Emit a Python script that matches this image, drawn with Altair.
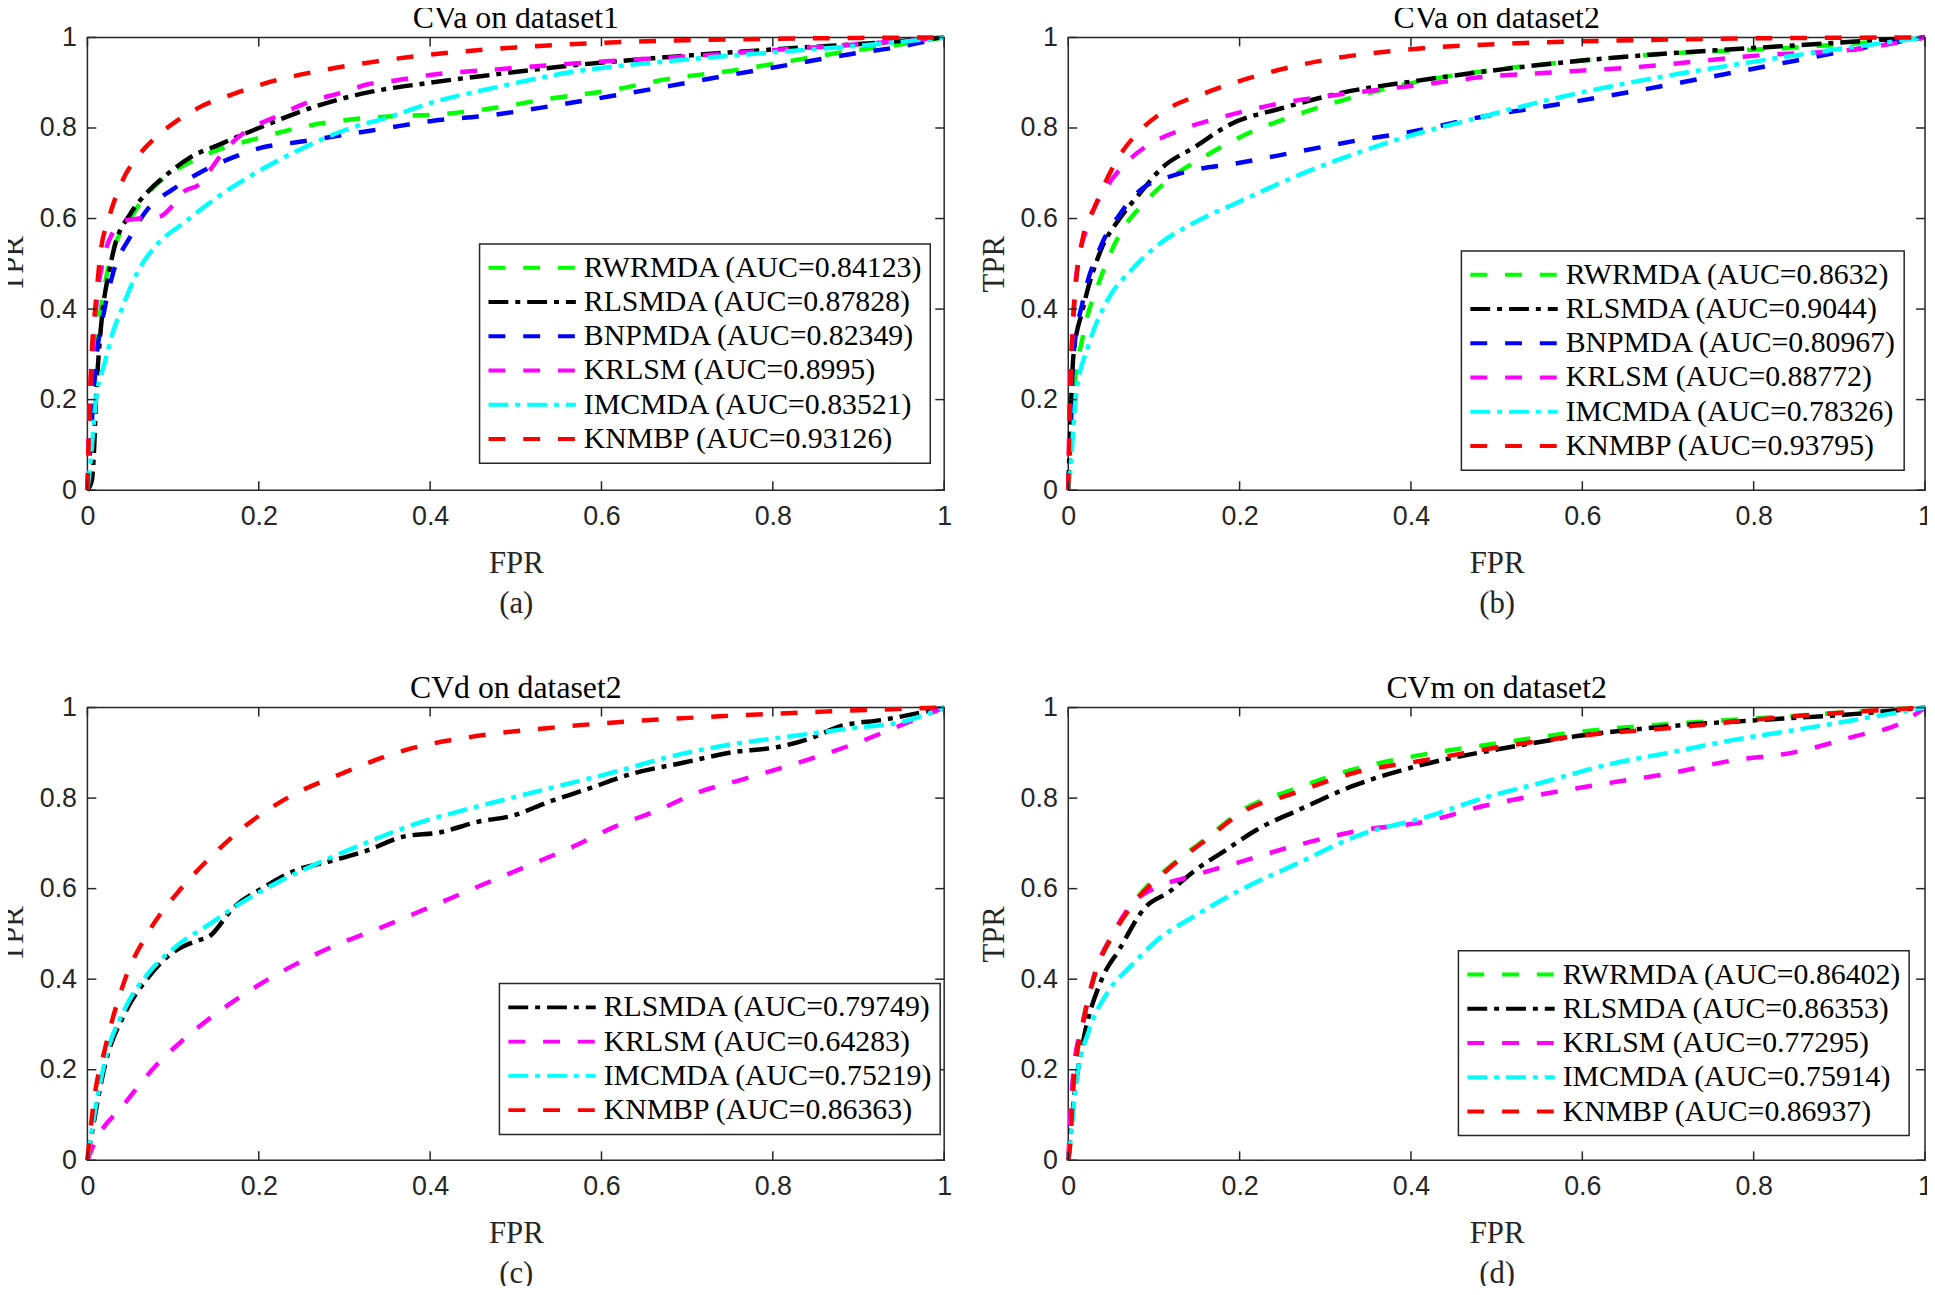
import altair as alt
import pandas as pd

# ---------------- data ----------------
TICKS = [0, 0.2, 0.4, 0.6, 0.8, 1]

METHODS = ["RWRMDA", "RLSMDA", "BNPMDA", "KRLSM", "IMCMDA", "KNMBP"]
COLORS = ["#00FF00", "#000000", "#0000FF", "#FF00FF", "#00FFFF", "#FF0000"]
DASHES = [[17, 18], [20, 7, 5, 7], [17, 18], [17, 18], [20, 7, 5, 7], [17, 18]]

# (a) CVa on dataset1
A_AUC = ["0.84123", "0.87828", "0.82349", "0.8995", "0.83521", "0.93126"]
A_RWRMDA_X = [0, 0.005, 0.01, 0.02, 0.03, 0.05, 0.07, 0.09, 0.12, 0.15, 0.2, 0.255, 0.3, 0.355, 0.41, 0.47, 0.54, 0.61, 0.68, 0.75, 0.82, 0.89, 0.95, 1]
A_RWRMDA_Y = [0, 0.15, 0.3, 0.45, 0.53, 0.6, 0.655, 0.69, 0.725, 0.75, 0.778, 0.804, 0.817, 0.826, 0.83, 0.843, 0.865, 0.883, 0.909, 0.926, 0.948, 0.97, 0.985, 1]
A_RLSMDA_X = [0, 0.005, 0.008, 0.01, 0.014, 0.018, 0.025, 0.032, 0.05, 0.071, 0.092, 0.12, 0.156, 0.2, 0.27, 0.326, 0.4, 0.47, 0.57, 0.68, 0.82, 0.92, 1]
A_RLSMDA_Y = [0, 0.02, 0.1, 0.2, 0.32, 0.4, 0.48, 0.54, 0.61, 0.66, 0.696, 0.735, 0.765, 0.8, 0.85, 0.878, 0.9, 0.917, 0.939, 0.957, 0.976, 0.988, 1]
A_BNPMDA_X = [0, 0.005, 0.01, 0.02, 0.03, 0.05, 0.07, 0.1, 0.13, 0.17, 0.2, 0.25, 0.3, 0.35, 0.4, 0.47, 0.54, 0.61, 0.68, 0.75, 0.82, 0.89, 0.95, 1]
A_BNPMDA_Y = [0, 0.15, 0.28, 0.4, 0.48, 0.56, 0.62, 0.665, 0.7, 0.735, 0.755, 0.77, 0.785, 0.8, 0.815, 0.828, 0.848, 0.87, 0.893, 0.917, 0.94, 0.963, 0.98, 1]
A_KRLSM_X = [0, 0.003, 0.006, 0.01, 0.02, 0.03, 0.043, 0.06, 0.085, 0.1, 0.113, 0.13, 0.142, 0.16, 0.184, 0.22, 0.255, 0.3, 0.326, 0.36, 0.4, 0.48, 0.61, 0.7, 0.8, 0.9, 1]
A_KRLSM_Y = [0, 0.2, 0.3, 0.4, 0.52, 0.57, 0.595, 0.6, 0.605, 0.63, 0.66, 0.675, 0.704, 0.75, 0.791, 0.825, 0.855, 0.88, 0.896, 0.905, 0.917, 0.93, 0.948, 0.958, 0.972, 0.985, 1]
A_IMCMDA_X = [0, 0.003, 0.01, 0.02, 0.03, 0.04, 0.06, 0.08, 0.113, 0.15, 0.184, 0.24, 0.3, 0.355, 0.4, 0.47, 0.57, 0.68, 0.82, 0.92, 1]
A_IMCMDA_Y = [0, 0.05, 0.2, 0.28, 0.35, 0.4, 0.487, 0.54, 0.591, 0.645, 0.687, 0.745, 0.795, 0.826, 0.855, 0.887, 0.925, 0.948, 0.97, 0.985, 1]
A_KNMBP_X = [0, 0.002, 0.005, 0.01, 0.015, 0.025, 0.04, 0.06, 0.08, 0.1, 0.13, 0.17, 0.21, 0.27, 0.33, 0.4, 0.5, 0.6, 0.7, 0.8, 0.9, 1]
A_KNMBP_Y = [0, 0.15, 0.3, 0.42, 0.52, 0.6, 0.68, 0.74, 0.78, 0.81, 0.845, 0.875, 0.9, 0.926, 0.945, 0.962, 0.978, 0.988, 0.994, 0.997, 0.999, 1]

# (b) CVa on dataset2
B_AUC = ["0.8632", "0.9044", "0.80967", "0.88772", "0.78326", "0.93795"]
B_RWRMDA_X = [0, 0.002, 0.006, 0.017, 0.038, 0.06, 0.089, 0.118, 0.161, 0.204, 0.262, 0.32, 0.392, 0.486, 0.594, 0.703, 0.811, 0.919, 1]
B_RWRMDA_Y = [0, 0.08, 0.209, 0.339, 0.47, 0.565, 0.635, 0.687, 0.739, 0.783, 0.826, 0.861, 0.896, 0.926, 0.948, 0.965, 0.974, 0.987, 1]
B_RLSMDA_X = [0, 0.002, 0.006, 0.017, 0.038, 0.06, 0.082, 0.11, 0.147, 0.19, 0.248, 0.32, 0.406, 0.508, 0.594, 0.703, 0.811, 0.919, 1]
B_RLSMDA_Y = [0, 0.12, 0.296, 0.4, 0.53, 0.6, 0.652, 0.713, 0.757, 0.809, 0.843, 0.878, 0.904, 0.93, 0.948, 0.965, 0.978, 0.991, 1]
B_BNPMDA_X = [0, 0.002, 0.006, 0.017, 0.038, 0.06, 0.089, 0.11, 0.139, 0.197, 0.269, 0.342, 0.399, 0.486, 0.558, 0.666, 0.739, 0.847, 0.919, 1]
B_BNPMDA_Y = [0, 0.12, 0.296, 0.417, 0.539, 0.609, 0.67, 0.687, 0.704, 0.722, 0.748, 0.774, 0.791, 0.826, 0.848, 0.883, 0.909, 0.948, 0.974, 1]
B_KRLSM_X = [0, 0.002, 0.005, 0.009, 0.024, 0.045, 0.067, 0.089, 0.125, 0.183, 0.255, 0.334, 0.414, 0.486, 0.558, 0.666, 0.811, 0.919, 1]
B_KRLSM_Y = [0, 0.2, 0.35, 0.47, 0.591, 0.67, 0.722, 0.757, 0.791, 0.826, 0.857, 0.878, 0.896, 0.913, 0.922, 0.935, 0.961, 0.974, 1]
B_IMCMDA_X = [0, 0.002, 0.009, 0.024, 0.045, 0.074, 0.103, 0.147, 0.197, 0.269, 0.342, 0.399, 0.486, 0.558, 0.666, 0.775, 0.883, 1]
B_IMCMDA_Y = [0, 0.035, 0.209, 0.322, 0.417, 0.487, 0.539, 0.591, 0.635, 0.696, 0.748, 0.783, 0.826, 0.861, 0.904, 0.939, 0.97, 1]
B_KNMBP_X = [0, 0.002, 0.006, 0.017, 0.031, 0.045, 0.06, 0.082, 0.11, 0.161, 0.233, 0.305, 0.414, 0.522, 0.666, 0.8, 1]
B_KNMBP_Y = [0, 0.2, 0.383, 0.557, 0.626, 0.687, 0.739, 0.791, 0.835, 0.878, 0.922, 0.952, 0.976, 0.987, 0.994, 0.998, 1]

# (c) CVd on dataset2
C_AUC = ["0.79749", "0.64283", "0.75219", "0.86363"]
C_RLSMDA_X = [0, 0.007, 0.021, 0.043, 0.071, 0.099, 0.128, 0.142, 0.17, 0.206, 0.241, 0.284, 0.326, 0.369, 0.411, 0.454, 0.496, 0.539, 0.582, 0.638, 0.695, 0.752, 0.809, 0.844, 0.879, 0.929, 1]
C_RLSMDA_Y = [0, 0.079, 0.214, 0.322, 0.404, 0.458, 0.485, 0.494, 0.557, 0.603, 0.639, 0.661, 0.684, 0.715, 0.724, 0.747, 0.761, 0.792, 0.819, 0.855, 0.878, 0.901, 0.914, 0.932, 0.959, 0.973, 1]
C_KRLSM_X = [0, 0.007, 0.043, 0.078, 0.113, 0.156, 0.199, 0.241, 0.291, 0.34, 0.397, 0.454, 0.511, 0.567, 0.617, 0.667, 0.709, 0.766, 0.823, 0.894, 0.965, 1]
C_KRLSM_Y = [0, 0.033, 0.124, 0.205, 0.268, 0.332, 0.386, 0.431, 0.476, 0.512, 0.557, 0.603, 0.648, 0.693, 0.738, 0.774, 0.81, 0.842, 0.874, 0.919, 0.973, 1]
C_IMCMDA_X = [0, 0.007, 0.021, 0.043, 0.071, 0.106, 0.142, 0.177, 0.22, 0.27, 0.326, 0.383, 0.44, 0.496, 0.553, 0.61, 0.681, 0.752, 0.823, 0.894, 0.95, 1]
C_IMCMDA_Y = [0, 0.088, 0.223, 0.332, 0.413, 0.476, 0.521, 0.566, 0.612, 0.657, 0.702, 0.743, 0.774, 0.801, 0.828, 0.855, 0.892, 0.919, 0.937, 0.955, 0.968, 1]
C_KNMBP_X = [0, 0.007, 0.021, 0.043, 0.071, 0.106, 0.142, 0.184, 0.234, 0.298, 0.369, 0.454, 0.539, 0.645, 0.752, 0.858, 1]
C_KNMBP_Y = [0, 0.124, 0.25, 0.395, 0.503, 0.593, 0.666, 0.738, 0.801, 0.855, 0.905, 0.937, 0.955, 0.971, 0.982, 0.991, 1]

# (d) CVm on dataset2
D_AUC = ["0.86402", "0.86353", "0.77295", "0.75914", "0.86937"]
D_RWRMDA_X = [0, 0.002, 0.006, 0.017, 0.031, 0.053, 0.082, 0.118, 0.161, 0.204, 0.262, 0.334, 0.414, 0.508, 0.594, 0.703, 0.811, 0.919, 1]
D_RWRMDA_Y = [0, 0.033, 0.169, 0.304, 0.413, 0.503, 0.584, 0.648, 0.711, 0.774, 0.819, 0.864, 0.896, 0.923, 0.946, 0.964, 0.977, 0.991, 1]
D_RLSMDA_X = [0, 0.002, 0.006, 0.017, 0.038, 0.06, 0.089, 0.118, 0.147, 0.183, 0.219, 0.269, 0.334, 0.414, 0.508, 0.594, 0.703, 0.811, 0.919, 1]
D_RLSMDA_Y = [0, 0.04, 0.124, 0.259, 0.395, 0.467, 0.557, 0.593, 0.639, 0.684, 0.729, 0.774, 0.828, 0.874, 0.91, 0.937, 0.959, 0.973, 0.986, 1]
D_KRLSM_X = [0, 0.002, 0.006, 0.017, 0.031, 0.053, 0.074, 0.103, 0.139, 0.197, 0.269, 0.342, 0.414, 0.486, 0.558, 0.63, 0.703, 0.775, 0.847, 0.919, 0.97, 1]
D_KRLSM_Y = [0, 0.08, 0.196, 0.304, 0.413, 0.503, 0.566, 0.603, 0.625, 0.657, 0.697, 0.729, 0.747, 0.783, 0.81, 0.833, 0.855, 0.883, 0.901, 0.937, 0.964, 1]
D_IMCMDA_X = [0, 0.002, 0.009, 0.024, 0.045, 0.074, 0.103, 0.147, 0.197, 0.269, 0.342, 0.414, 0.486, 0.558, 0.63, 0.703, 0.775, 0.847, 0.919, 1]
D_IMCMDA_Y = [0, 0.033, 0.169, 0.286, 0.368, 0.431, 0.485, 0.539, 0.593, 0.657, 0.72, 0.756, 0.801, 0.837, 0.874, 0.901, 0.928, 0.95, 0.973, 1]
D_KNMBP_X = [0, 0.002, 0.006, 0.017, 0.031, 0.053, 0.082, 0.118, 0.161, 0.204, 0.262, 0.334, 0.414, 0.508, 0.594, 0.703, 0.811, 0.919, 1]
D_KNMBP_Y = [0, 0.03, 0.165, 0.3, 0.41, 0.5, 0.58, 0.645, 0.708, 0.77, 0.81, 0.856, 0.883, 0.914, 0.937, 0.955, 0.975, 0.991, 1]

# ---------------- chart building ----------------
W, H = 863, 456
AX = "#262626"
TICK_LEN = 9
STYLE = dict(zip(METHODS, zip(COLORS, DASHES)))


def panel(title, caption, names, aucs, curves, lx, ly):
    rows, labels, cols, dashes = [], [], [], []
    for name, auc, (xs, ys) in zip(names, aucs, curves):
        lab = f"{name} (AUC={auc})"
        labels.append(lab)
        cols.append(STYLE[name][0])
        dashes.append(STYLE[name][1])
        for i, (x, y) in enumerate(zip(xs, ys)):
            rows.append({"series": lab, "fpr": x, "tpr": y, "i": i})
    df = pd.DataFrame(rows)
    xsc = alt.Scale(domain=[0, 1], nice=False, zero=False)
    ysc = alt.Scale(domain=[0, 1], nice=False, zero=False)
    xax = alt.Axis(values=TICKS, format="~g", title=["FPR", caption], labelFlush=False)
    yax = alt.Axis(values=TICKS, format="~g", title="TPR", labelFlush=False)
    leg = alt.Legend(orient="none", legendX=lx, legendY=ly, title=None)
    lines = alt.Chart(df).mark_line(strokeWidth=4.5, interpolate="monotone").encode(
        x=alt.X("fpr:Q", scale=xsc, axis=xax),
        y=alt.Y("tpr:Q", scale=ysc, axis=yax),
        color=alt.Color("series:N", scale=alt.Scale(domain=labels, range=cols),
                        sort=labels, legend=leg),
        strokeDash=alt.StrokeDash("series:N", scale=alt.Scale(domain=labels, range=dashes),
                                  sort=labels, legend=leg),
        order="i:Q",
    )
    tdf = pd.DataFrame({"v": TICKS})
    base = alt.Chart(tdf).mark_rule(color=AX, strokeWidth=1.5)
    bx = base.encode(x=alt.X("v:Q", scale=xsc, axis=xax), y=alt.value(H), y2=alt.value(H - TICK_LEN))
    tx = base.encode(x=alt.X("v:Q", scale=xsc, axis=xax), y=alt.value(0), y2=alt.value(TICK_LEN))
    ly_ = base.encode(y=alt.Y("v:Q", scale=ysc, axis=yax), x=alt.value(0), x2=alt.value(TICK_LEN))
    ry = base.encode(y=alt.Y("v:Q", scale=ysc, axis=yax), x=alt.value(W), x2=alt.value(W - TICK_LEN))
    ttl = alt.Title(title, font="Liberation Serif", fontSize=32, fontWeight="normal",
                    color="black", offset=-11, anchor="middle", frame="group")
    return alt.layer(lines, bx, tx, ly_, ry).properties(width=W, height=H, title=ttl)


pa = panel("CVa on dataset1", "(a)", METHODS, A_AUC,
           [(A_RWRMDA_X, A_RWRMDA_Y), (A_RLSMDA_X, A_RLSMDA_Y), (A_BNPMDA_X, A_BNPMDA_Y),
            (A_KRLSM_X, A_KRLSM_Y), (A_IMCMDA_X, A_IMCMDA_Y), (A_KNMBP_X, A_KNMBP_Y)], 395, 208)
pb = panel("CVa on dataset2", "(b)", METHODS, B_AUC,
           [(B_RWRMDA_X, B_RWRMDA_Y), (B_RLSMDA_X, B_RLSMDA_Y), (B_BNPMDA_X, B_BNPMDA_Y),
            (B_KRLSM_X, B_KRLSM_Y), (B_IMCMDA_X, B_IMCMDA_Y), (B_KNMBP_X, B_KNMBP_Y)], 396, 215)
pc = panel("CVd on dataset2", "(c)", ["RLSMDA", "KRLSM", "IMCMDA", "KNMBP"], C_AUC,
           [(C_RLSMDA_X, C_RLSMDA_Y), (C_KRLSM_X, C_KRLSM_Y), (C_IMCMDA_X, C_IMCMDA_Y),
            (C_KNMBP_X, C_KNMBP_Y)], 415, 278)
pd_ = panel("CVm on dataset2", "(d)", ["RWRMDA", "RLSMDA", "KRLSM", "IMCMDA", "KNMBP"], D_AUC,
            [(D_RWRMDA_X, D_RWRMDA_Y), (D_RLSMDA_X, D_RLSMDA_Y), (D_KRLSM_X, D_KRLSM_Y),
             (D_IMCMDA_X, D_IMCMDA_Y), (D_KNMBP_X, D_KNMBP_Y)], 393, 245)

RES = dict(color="independent", strokeDash="independent")
row1 = alt.hconcat(pa, pb, spacing=23).resolve_scale(**RES)
row2 = alt.hconcat(pc, pd_, spacing=23).resolve_scale(**RES)
chart = (
    alt.vconcat(row1, row2, spacing=52)
    .resolve_scale(**RES)
    .properties(padding={"left": -12, "top": -12, "right": -8, "bottom": -8}, background="white")
    .configure_view(stroke=AX, strokeWidth=1.5)
    .configure_axis(domain=False, ticks=False, tickSize=0, grid=False, labelFlush=False,
                    labelFont="Liberation Sans", labelFontSize=27, labelColor=AX,
                    titleFont="Liberation Serif", titleFontSize=31, titleColor=AX,
                    titleFontWeight="normal")
    .configure_axisX(labelPadding=14, titlePadding=19, titleLineHeight=40)
    .configure_axisY(labelPadding=11, titlePadding=10)
    .configure_legend(symbolType="stroke", symbolSize=7744, symbolStrokeWidth=4,
                      labelFont="Liberation Serif", labelFontSize=30, labelColor="black",
                      labelLimit=800, padding=7, strokeColor=AX, strokeWidth=1.5,
                      fillColor="white", rowPadding=0.5, labelOffset=6, clipHeight=34,
                      cornerRadius=0)
)

chart.save("out.html", embed_options={"renderer": "svg", "actions": False})
